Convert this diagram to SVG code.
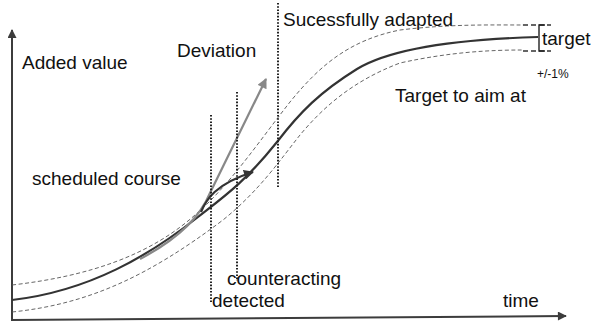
<svg xmlns="http://www.w3.org/2000/svg" width="592" height="326" viewBox="0 0 592 326">
<defs>
<style>
text{font-family:"Liberation Sans",Arial,sans-serif;font-size:19px;fill:#111}
.ax{stroke:#3c3c3c;stroke-width:2;fill:none}
.main{stroke:#333;stroke-width:2.2;fill:none}
.band{stroke:#555;stroke-width:0.9;fill:none;stroke-dasharray:4 2.5}
.dot{stroke:#222;stroke-width:2;fill:none;stroke-dasharray:1.6 1.6}
.dev{stroke:#888;stroke-width:2.2;fill:none}
.ctr{stroke:#333;stroke-width:2.2;fill:none}
.tdash{stroke:#333;stroke-width:1.4;fill:none;stroke-dasharray:5 3}
</style>
<marker id="ah" viewBox="0 0 10 10" refX="9" refY="5" markerWidth="10" markerHeight="9" markerUnits="userSpaceOnUse" orient="auto"><path d="M0,0 L10,5 L0,10 z" fill="#3c3c3c"/></marker>
<marker id="ahg" viewBox="0 0 10 10" refX="9" refY="5" markerWidth="11" markerHeight="10" markerUnits="userSpaceOnUse" orient="auto"><path d="M0,0 L10,5 L0,10 z" fill="#888"/></marker>
<marker id="ahc" viewBox="0 0 10 10" refX="9" refY="5" markerWidth="11" markerHeight="10" markerUnits="userSpaceOnUse" orient="auto"><path d="M0,0 L10,5 L0,10 z" fill="#333"/></marker>
</defs>
<g id="axes">
<line class="ax" x1="12" y1="321" x2="12" y2="30" marker-end="url(#ah)"/>
<line class="ax" x1="11" y1="320" x2="566" y2="316" marker-end="url(#ah)"/>
</g>
<g id="curves">
<path class="band" d="M12,285 C 90,276 150,255 195,215 C 230,185 260,140 290,102 C 320,65 350,40 400,30 C 450,24 490,25 523,25"/>
<path class="band" d="M12,312 C 90,304 150,275 223,220 C 260,190 280,160 300,135 C 325,105 355,80 400,63 C 450,52 490,50 523,50"/>
<path class="main" d="M12,300 C 90,291 150,255 198,217 C 225,196 245,182 277,142 C 300,112 320,92 357,69 C 395,46 470,39 538,37"/>
</g>
<g id="connectors">
<path class="dev" d="M140,259 Q 195,230 210,193 L 266,79" marker-end="url(#ahg)"/>
<path class="ctr" d="M201,212 C 206,200 215,184 253,172" marker-end="url(#ahc)"/>
<line class="dot" x1="211" y1="115" x2="211" y2="302"/>
<line class="dot" x1="237" y1="92" x2="237" y2="281"/>
<line class="dot" x1="278" y1="3" x2="278" y2="188"/>
</g>
<g id="target-bracket">
<line class="tdash" x1="523" y1="25" x2="551" y2="25"/>
<line class="tdash" x1="523" y1="51" x2="551" y2="51"/>
<path d="M545,25 H539 V51 H545" stroke="#222" stroke-width="1.4" fill="none"/>
</g>
<g id="labels">
<text x="22" y="69">Added value</text>
<text x="177" y="57">Deviation</text>
<text x="283" y="26">Sucessfully adapted</text>
<text x="542" y="45">target</text>
<text x="537" y="78" style="font-size:12px">+/-1%</text>
<text x="395" y="102">Target to aim at</text>
<text x="32" y="185">scheduled course</text>
<text x="227" y="285">counteracting</text>
<text x="212" y="307">detected</text>
<text x="503" y="307">time</text>
</g>
</svg>
